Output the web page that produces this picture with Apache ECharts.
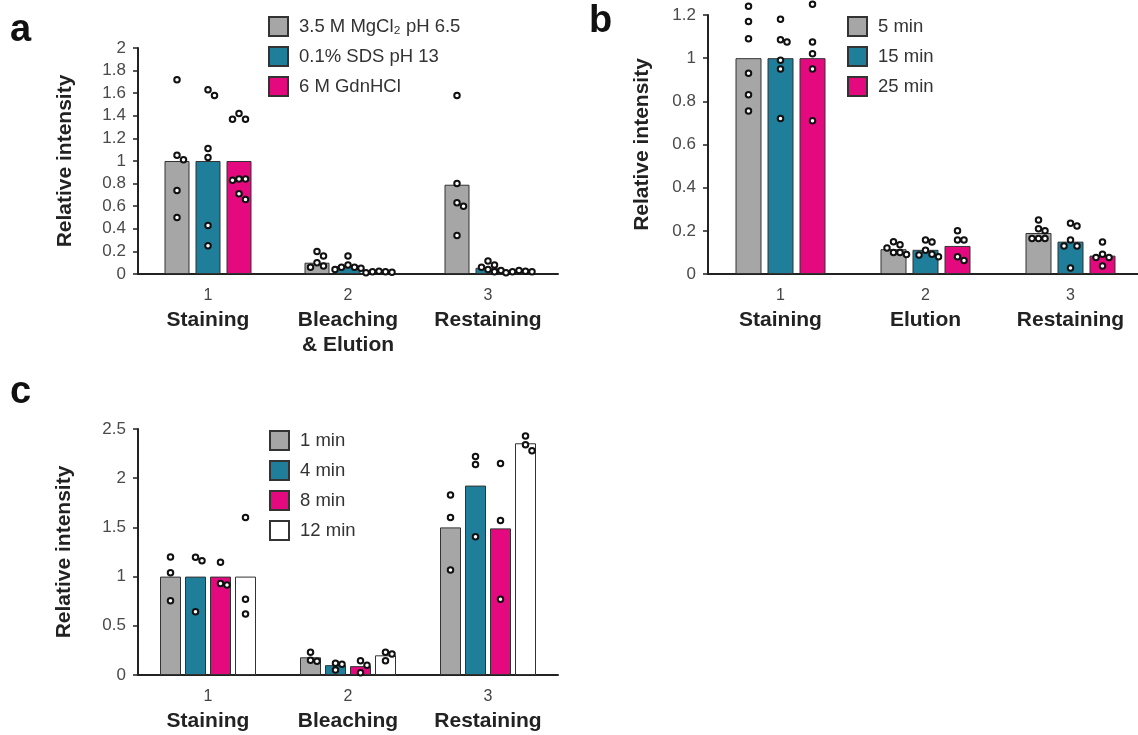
<!DOCTYPE html>
<html>
<head>
<meta charset="utf-8">
<script src="https://cdn.jsdelivr.net/npm/echarts@6/dist/echarts.min.js"></script>
<style>
  html, body { margin: 0; background: #fff; }
  #chart { width: 1138px; height: 735px; }
</style>
</head>
<body>
<div id="chart"></div>
<script>
// ---- panel a ----
const catsA = ['1', '2', '3']
const stagesA = ['Staining', 'Bleaching\n& Elution', 'Restaining']
const legendA = ['3.5 M MgCl₂ pH 6.5', '0.1% SDS pH 13', '6 M GdnHCl']
const ticksA = { min: 0, max: 2, interval: 0.2 }
const barsA = [
  [1.0, 0.10, 0.79],
  [1.0, 0.07, 0.055],
  [1.0, 0.02, 0.02]
]
const dotsA = [
  [[1.72, 1.05, 1.01, 0.74, 0.50], [0.20, 0.16, 0.10, 0.07, 0.06], [1.58, 0.80, 0.63, 0.60, 0.34]],
  [[1.63, 1.58, 1.11, 1.03, 0.43, 0.25], [0.16, 0.08, 0.06, 0.06, 0.05, 0.04], [0.115, 0.08, 0.06, 0.04, 0.03, 0.02]],
  [[1.42, 1.37, 1.37, 0.84, 0.84, 0.83, 0.71, 0.66], [0.025, 0.02, 0.02, 0.015, 0.01], [0.03, 0.025, 0.02, 0.02, 0.01]]
]

// ---- panel b ----
const catsB = ['1', '2', '3']
const stagesB = ['Staining', 'Elution', 'Restaining']
const legendB = ['5 min', '15 min', '25 min']
const ticksB = { min: 0, max: 1.2, interval: 0.2 }
const barsB = [
  [1.0, 0.115, 0.19],
  [1.0, 0.112, 0.15],
  [1.0, 0.13, 0.085]
]
const dotsB = [
  [[1.24, 1.17, 1.09, 0.93, 0.83, 0.755], [0.15, 0.135, 0.12, 0.10, 0.10, 0.09], [0.25, 0.21, 0.20, 0.165, 0.165, 0.165]],
  [[1.18, 1.085, 1.075, 0.99, 0.95, 0.72], [0.157, 0.148, 0.11, 0.092, 0.088, 0.08], [0.235, 0.222, 0.157, 0.13, 0.13, 0.028]],
  [[1.25, 1.075, 1.02, 0.95, 0.71], [0.2, 0.157, 0.157, 0.08, 0.062], [0.148, 0.092, 0.077, 0.077, 0.037]]
]

// ---- panel c ----
const catsC = ['1', '2', '3']
const stagesC = ['Staining', 'Bleaching', 'Restaining']
const legendC = ['1 min', '4 min', '8 min', '12 min']
const ticksC = { min: 0, max: 2.5, interval: 0.5 }
const barsC = [
  [1.0, 0.18, 1.50],
  [1.0, 0.10, 1.925],
  [1.0, 0.09, 1.49],
  [1.0, 0.20, 2.355]
]
const dotsC = [
  [[1.2, 1.04, 0.755], [0.23, 0.15, 0.14], [1.83, 1.60, 1.067]],
  [[1.196, 1.16, 0.643], [0.12, 0.11, 0.05], [2.22, 2.14, 1.405]],
  [[1.145, 0.93, 0.915], [0.145, 0.10, 0.023], [2.15, 1.57, 0.77]],
  [[1.6, 0.77, 0.62], [0.23, 0.213, 0.145], [2.43, 2.34, 2.28]]
]

const colors = ['#a6a6a6', '#1f7e99', '#e5097f', '#ffffff']
const font = 'Liberation Sans, Arial, Helvetica, sans-serif'

const panels = [
  { cats: catsA, stages: stagesA, legend: legendA, ticks: ticksA, bars: barsA, dots: dotsA,
    grid: { left: 138, top: 48, width: 420, height: 226 }, barWidth: 25, gap: 6,
    nameGap: 62, legendPos: { left: 268, top: 16 } },
  { cats: catsB, stages: stagesB, legend: legendB, ticks: ticksB, bars: barsB, dots: dotsB,
    grid: { left: 708, top: 15, width: 435, height: 259 }, barWidth: 26, gap: 6,
    nameGap: 55, legendPos: { left: 847, top: 16 } },
  { cats: catsC, stages: stagesC, legend: legendC, ticks: ticksC, bars: barsC, dots: dotsC,
    grid: { left: 138, top: 429, width: 420, height: 246 }, barWidth: 21, gap: 4,
    nameGap: 63, legendPos: { left: 269, top: 430 } }
]

// simple beeswarm: spread dots sideways when they would overlap
function swarm(vals, pxPerUnit, d) {
  const placed = []
  return vals.map(v => {
    const y = v * pxPerUnit
    const cands = [0, d, -d, 2 * d, -2 * d, 3 * d, -3 * d]
    let off = 0
    for (const c of cands) {
      if (placed.every(p => (p.x - c) ** 2 + (p.y - y) ** 2 >= d * d)) { off = c; break }
    }
    placed.push({ x: off, y: y })
    return off
  })
}

const grid = [], xAxis = [], yAxis = [], series = [], legend = []
panels.forEach((p, i) => {
  grid.push(Object.assign({ outerBoundsMode: 'none', containLabel: false }, p.grid))
  xAxis.push({
    type: 'category', gridIndex: i, data: p.cats,
    axisLine: { lineStyle: { color: '#222', width: 2 } },
    axisTick: { show: false },
    axisLabel: {
      margin: 10,
      formatter: (val, idx) => '{n|' + val + '}\n' + p.stages[idx].split('\n').map(s => '{b|' + s + '}').join('\n'),
      rich: {
        n: { fontSize: 16, color: '#444', lineHeight: 24, fontFamily: font },
        b: { fontSize: 21, fontWeight: 'bold', color: '#222', lineHeight: 25, fontFamily: font }
      }
    }
  })
  yAxis.push({
    type: 'value', gridIndex: i, min: p.ticks.min, max: p.ticks.max, interval: p.ticks.interval,
    name: 'Relative intensity', nameLocation: 'middle', nameGap: p.nameGap,
    nameTextStyle: { fontSize: 21, fontWeight: 'bold', color: '#222', fontFamily: font },
    axisLine: { show: true, lineStyle: { color: '#222', width: 2 } },
    axisTick: { show: true, length: 5, lineStyle: { color: '#222', width: 1.5 } },
    axisLabel: { fontSize: 17, color: '#4a4a4a', margin: 12, fontFamily: font },
    splitLine: { show: false }
  })
  legend.push({
    data: p.legend, orient: 'vertical', left: p.legendPos.left, top: p.legendPos.top,
    padding: 0, icon: 'rect', itemWidth: 19, itemHeight: 19, itemGap: 9, selectedMode: false,
    textStyle: { fontSize: 18.5, lineHeight: 19, color: '#333', fontFamily: font, padding: [0, 0, 0, 6] }
  })

  const n = p.bars.length
  const total = n * p.barWidth + (n - 1) * p.gap
  const pxPerUnit = p.grid.height / (p.ticks.max - p.ticks.min)
  p.bars.forEach((vals, s) => {
    series.push({
      name: p.legend[s], type: 'bar', xAxisIndex: i, yAxisIndex: i,
      data: vals, barWidth: p.barWidth, barGap: (p.gap / p.barWidth * 100) + '%',
      itemStyle: { color: colors[s], borderColor: '#333', borderWidth: 1 },
      z: 2, silent: true
    })
    const center = -total / 2 + p.barWidth / 2 + s * (p.barWidth + p.gap)
    const data = []
    p.dots[s].forEach((vs, c) => {
      const offs = swarm(vs, pxPerUnit, 6.5)
      vs.forEach((v, k) => data.push({ value: [c, v], symbolOffset: [center + offs[k], 0] }))
    })
    series.push({
      name: 'dots-' + i + '-' + s, type: 'scatter', xAxisIndex: i, yAxisIndex: i,
      data: data, symbol: 'circle', symbolSize: 5.5, clip: false,
      itemStyle: { color: '#fff', borderColor: '#111', borderWidth: 2, opacity: 1 },
      z: 3, silent: true
    })
  })
})

const chart = echarts.init(document.getElementById('chart'))
chart.setOption({
  backgroundColor: '#fff',
  animation: false,
  grid, xAxis, yAxis, series, legend,
  graphic: [
    { type: 'text', left: 10, top: 12, style: { text: 'a', font: 'bold 38px ' + font, fill: '#111' } },
    { type: 'text', left: 589, top: 3, style: { text: 'b', font: 'bold 38px ' + font, fill: '#111' } },
    { type: 'text', left: 10, top: 374, style: { text: 'c', font: 'bold 38px ' + font, fill: '#111' } }
  ]
})
</script>
</body>
</html>
